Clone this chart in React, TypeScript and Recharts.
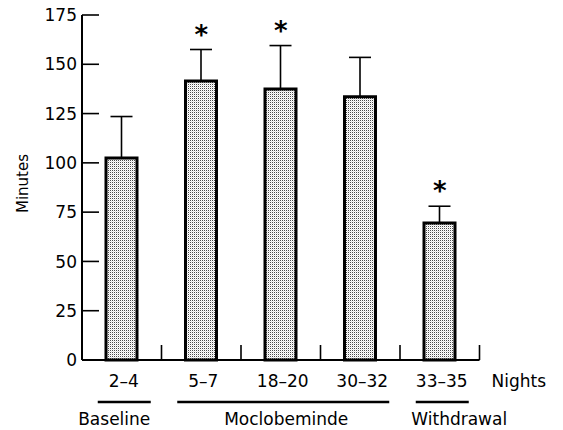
import React from 'react';
import { ComposedChart, Bar, XAxis, YAxis, ErrorBar, Scatter } from 'recharts';

// ---- data ----
const nights = ['2–4', '5–7', '18–20', '30–32', '33–35'];
const minutes = [102.5, 141.5, 137.5, 133.5, 69.5];
const errorsUp = [21, 16, 22, 20, 8.5];
const significant = [false, true, true, false, true];
const yTicks = [0, 25, 50, 75, 100, 125, 150, 175];
const groupNames = ['Baseline', 'Moclobeminde', 'Withdrawal'];
const groupFrom = [0, 1, 4];
const groupTo = [0, 3, 4];
const xUnit = 'Nights';
const yLabel = 'Minutes';

// ---- layout / style ----
const FONT = '"DejaVu Sans", "Liberation Sans", Arial, sans-serif';
const FS = 17;
const groupTextDx = [-10, 3, 17];

const data = nights.map((n, i) => ({
  night: n,
  minutes: minutes[i],
  err: [0, errorsUp[i]],
  star: significant[i] ? minutes[i] + errorsUp[i] : null,
}));

const XTick = (props: any) => {
  const { x, y, payload, index } = props;
  const half = payload && typeof payload.offset === 'number' && payload.offset > 0 ? payload.offset : 39.75;
  const gi = groupFrom.indexOf(index);
  return (
    <g>
      <line x1={x + half} x2={x + half} y1={y} y2={y - 15} stroke="#000" strokeWidth={1.6} />
      <text x={x + 2} y={y + 27} textAnchor="middle" fontSize={FS} fontFamily={FONT} fill="#000">
        {payload.value}
      </text>
      {index === nights.length - 1 && (
        <text x={x + half + 12} y={y + 27} textAnchor="start" fontSize={FS} fontFamily={FONT} fill="#000">
          {xUnit}
        </text>
      )}
      {gi >= 0 && (() => {
        const x1 = x - 24;
        const x2 = x + (groupTo[gi] - groupFrom[gi]) * 2 * half + 29;
        return (
          <g>
            <line x1={x1} x2={x2} y1={y + 42} y2={y + 42} stroke="#000" strokeWidth={2.5} />
            <text x={(x1 + x2) / 2 + groupTextDx[gi]} y={y + 65} textAnchor="middle" fontSize={FS} fontFamily={FONT} fill="#000">
              {groupNames[gi]}
            </text>
          </g>
        );
      })()}
    </g>
  );
};

const YTick = (props: any) => {
  const { x, y, payload } = props;
  return (
    <g>
      <line x1={x + 5} x2={x + 22} y1={y} y2={y} stroke="#000" strokeWidth={1.6} />
      <text x={x} y={y} dy="0.36em" textAnchor="end" fontSize={FS} fontFamily={FONT} fill="#000">
        {payload.value}
      </text>
    </g>
  );
};

const Star = (props: any) => {
  const { cx, cy, payload } = props;
  if (!payload || payload.star == null || cy == null || isNaN(cy)) return <g />;
  return (
    <text x={cx} y={cy - 6} textAnchor="middle" fontSize={26} fontWeight="bold" fontFamily={FONT} fill="#000">
      *
    </text>
  );
};

const YLabel = (props: any) => {
  const vb = props.viewBox || { x: 22, y: 15, width: 60, height: 345 };
  const cx = vb.x + 1;
  const cy = vb.y + vb.height / 2 - 4;
  return (
    <text
      x={cx}
      y={cy}
      transform={`rotate(-90, ${cx}, ${cy})`}
      textAnchor="middle"
      dominantBaseline="central"
      fontSize={15}
      fontFamily={FONT}
      fill="#000"
    >
      {yLabel}
    </text>
  );
};

export default function App() {
  return (
    <div style={{ position: 'absolute', left: 0, top: 0, width: 563, height: 430, background: '#fff' }}>
      <ComposedChart
        width={563}
        height={430}
        data={data}
        margin={{ top: 15, right: 83.5, bottom: 40, left: 22 }}
        barCategoryGap={0}
      >
        <defs>
          <pattern id="stipple" width="2" height="2" patternUnits="userSpaceOnUse">
            <rect x="0" y="0" width="2" height="2" fill="#ffffff" />
            <rect x="0" y="0" width="1" height="1" fill="#4a4a4a" />
            <rect x="1" y="1" width="1" height="1" fill="#e0e0e0" />
          </pattern>
        </defs>
        <XAxis
          dataKey="night"
          interval={0}
          height={30}
          tickSize={0}
          tickMargin={0}
          tickLine={false}
          axisLine={{ stroke: '#000', strokeWidth: 2 }}
          tick={<XTick />}
        />
        <YAxis
          domain={[0, 175]}
          ticks={yTicks}
          width={60}
          tickSize={0}
          tickMargin={5}
          tickLine={false}
          axisLine={{ stroke: '#000', strokeWidth: 2 }}
          tick={<YTick />}
          label={<YLabel />}
          interval={0}
        />
        <Bar
          dataKey="minutes"
          barSize={31}
          fill="url(#stipple)"
          stroke="#000"
          strokeWidth={3}
          isAnimationActive={false}
        >
          <ErrorBar dataKey="err" direction="y" width={11} stroke="#000" strokeWidth={1.6} isAnimationActive={false} />
        </Bar>
        <Scatter dataKey="star" shape={<Star />} isAnimationActive={false} />
      </ComposedChart>
    </div>
  );
}
